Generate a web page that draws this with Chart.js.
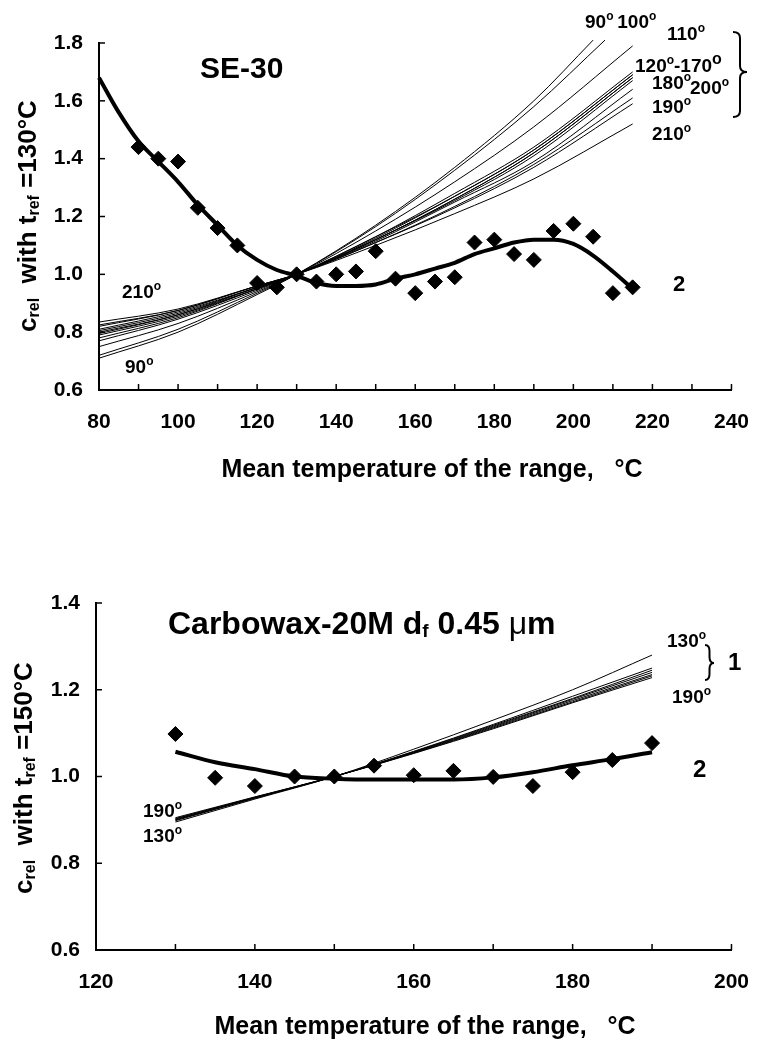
<!DOCTYPE html>
<html>
<head>
<meta charset="utf-8">
<script src="https://cdn.jsdelivr.net/npm/chart.js@4/dist/chart.umd.min.js"></script>
<style>
  html, body { margin: 0; padding: 0; background: #fff; }
  .panel { position: absolute; left: 0; width: 769px; }
  #top { top: 0; height: 500px; }
  #bottom { top: 560px; height: 481px; }
</style>
</head>
<body>
<div class="panel" id="top"><canvas id="se30"></canvas></div>
<div class="panel" id="bottom"><canvas id="cw20"></canvas></div>
<script>
// SE-30 panel
const seTemps = [90, 100, 110, 120, 130, 140, 150, 160, 170, 180, 190, 200, 210];
const seLineX = [80, 100, 120, 130, 150, 170, 190];
const seLineEnd = [205, 208, 215, 215, 215, 215, 215, 215, 215, 215, 215, 215, 215];
const seLineY = [
  [0.71, 0.80, 0.93, 1.00, 1.17, 1.37, 1.60, 1.81],
  [0.72, 0.81, 0.935, 1.00, 1.165, 1.36, 1.58, 1.81],
  [0.75, 0.83, 0.94, 1.00, 1.15, 1.32, 1.51, 1.79],
  [0.77, 0.845, 0.945, 1.00, 1.13, 1.28, 1.44, 1.70],
  [0.78, 0.85, 0.95, 1.00, 1.13, 1.27, 1.43, 1.69],
  [0.79, 0.855, 0.95, 1.00, 1.125, 1.27, 1.43, 1.69],
  [0.795, 0.86, 0.95, 1.00, 1.12, 1.26, 1.42, 1.68],
  [0.80, 0.86, 0.955, 1.00, 1.12, 1.26, 1.42, 1.68],
  [0.805, 0.865, 0.955, 1.00, 1.12, 1.255, 1.41, 1.67],
  [0.81, 0.87, 0.955, 1.00, 1.115, 1.25, 1.39, 1.64],
  [0.82, 0.875, 0.96, 1.00, 1.11, 1.23, 1.37, 1.59],
  [0.825, 0.875, 0.96, 1.00, 1.11, 1.235, 1.38, 1.61],
  [0.835, 0.88, 0.96, 1.00, 1.10, 1.21, 1.33, 1.52],
];
const seCurveX = [80, 85, 90, 95, 100, 105, 110, 115, 120, 125, 130, 135, 140, 145, 150, 155, 160, 165, 170, 175, 180, 185, 190, 195, 200, 205, 210, 215];
const seCurveY = [1.68, 1.56, 1.46, 1.39, 1.32, 1.24, 1.17, 1.10, 1.05, 1.015, 0.995, 0.97, 0.96, 0.96, 0.965, 0.985, 1.0, 1.02, 1.04, 1.07, 1.09, 1.11, 1.12, 1.12, 1.105, 1.065, 1.01, 0.95];
const sePointX = [90, 95, 100, 105, 110, 115, 120, 125, 130, 135, 140, 145, 150, 155, 160, 165, 170, 175, 180, 185, 190, 195, 200, 205, 210, 215];
const sePointY = [1.44, 1.40, 1.39, 1.23, 1.16, 1.10, 0.97, 0.955, 1.0, 0.975, 1.0, 1.01, 1.08, 0.985, 0.935, 0.975, 0.99, 1.11, 1.12, 1.07, 1.05, 1.15, 1.175, 1.13, 0.935, 0.955];

// Carbowax-20M panel
const cwTemps = [130, 140, 150, 160, 170, 180, 190];
const cwLineX = [130, 140, 150, 160, 170, 180, 190];
const cwLineY = [
  [0.895, 0.948, 1.0, 1.063, 1.13, 1.20, 1.28],
  [0.898, 0.95, 1.0, 1.058, 1.12, 1.185, 1.25],
  [0.90, 0.95, 1.0, 1.057, 1.118, 1.18, 1.245],
  [0.90, 0.951, 1.0, 1.056, 1.116, 1.178, 1.24],
  [0.902, 0.952, 1.0, 1.055, 1.114, 1.175, 1.235],
  [0.903, 0.952, 1.0, 1.054, 1.112, 1.172, 1.232],
  [0.905, 0.953, 1.0, 1.053, 1.11, 1.17, 1.228],
];
const cwCurveX = [130, 135, 140, 145, 150, 155, 160, 165, 170, 175, 180, 185, 190];
const cwCurveY = [1.057, 1.033, 1.017, 1.0, 0.995, 0.993, 0.993, 0.993, 0.998, 1.01, 1.026, 1.04, 1.056];
const cwPointX = [130, 135, 140, 145, 150, 155, 160, 165, 170, 175, 180, 185, 190];
const cwPointY = [1.098, 0.997, 0.978, 1.0, 1.0, 1.025, 1.003, 1.013, 0.999, 0.978, 1.01, 1.038, 1.077];

const FONT = '"Liberation Sans", Arial, sans-serif';
const font = (size, weight = 'bold') => `${weight} ${size}px ${FONT}`;

// draw a row of text pieces: [text, size, dy, fontOverride]
function drawRuns(ctx, x, y, parts, align = 'left') {
  let w = 0;
  parts.forEach((p) => { ctx.font = p[3] || font(p[1]); w += ctx.measureText(p[0]).width; });
  let cx = align === 'center' ? x - w / 2 : align === 'right' ? x - w : x;
  ctx.textAlign = 'left';
  ctx.textBaseline = 'middle';
  parts.forEach((p) => {
    ctx.font = p[3] || font(p[1]);
    ctx.fillText(p[0], cx, y + (p[2] || 0));
    cx += ctx.measureText(p[0]).width;
  });
}
const deg = (t, size = 19) => [[t, size], ['o', Math.round(size * 0.62), -size * 0.32]];

function brace(ctx, x0, y0, x1, y1, yTip) {
  const xm = (x0 + x1) / 2, r = 6;
  ctx.beginPath();
  ctx.moveTo(x0, y0);
  ctx.quadraticCurveTo(xm, y0, xm, y0 + r);
  ctx.lineTo(xm, yTip - r);
  ctx.quadraticCurveTo(xm, yTip, x1, yTip);
  ctx.quadraticCurveTo(xm, yTip, xm, yTip + r);
  ctx.lineTo(xm, y1 - r);
  ctx.quadraticCurveTo(xm, y1, x0, y1);
  ctx.stroke();
}

const decor = {
  id: 'decor',
  afterDraw(chart, args, opts) {
    const { ctx, chartArea: a, scales: { x, y } } = chart;
    ctx.save();
    ctx.strokeStyle = '#000';
    ctx.fillStyle = '#000';
    ctx.lineWidth = 1.5;
    // ticks pointing into the plot
    x.ticks.forEach((t) => {
      const px = x.getPixelForValue(t.value);
      ctx.beginPath(); ctx.moveTo(px, a.bottom); ctx.lineTo(px, a.bottom - 6); ctx.stroke();
    });
    y.ticks.forEach((t) => {
      const py = y.getPixelForValue(t.value);
      ctx.beginPath(); ctx.moveTo(a.left, py); ctx.lineTo(a.left + 6, py); ctx.stroke();
    });
    // axis titles
    drawRuns(ctx, opts.xTitle[0], opts.xTitle[1], [['Mean temperature of the range,   °C', 25]], 'center');
    ctx.save();
    ctx.translate(opts.yTitle[0], opts.yTitle[1]);
    ctx.rotate(-Math.PI / 2);
    drawRuns(ctx, 0, 0, [['c', 26], ['rel', 16, 6], ['  with t', 26], ['ref', 16, 6], [' =' + opts.ref + '°C', 26]], 'center');
    ctx.restore();
    opts.labels.forEach((l) => drawRuns(ctx, l[0], l[1], l[2]));
    ctx.lineWidth = 2;
    opts.braces.forEach((b) => brace(ctx, ...b));
    ctx.restore();
  },
};

function lineSet(xs, ys, width) {
  return {
    type: 'line',
    data: xs.map((v, i) => ({ x: v, y: ys[i] })),
    borderColor: '#000',
    borderWidth: width,
    pointRadius: 0,
    cubicInterpolationMode: 'monotone',
    clip: false,
  };
}

function pointSet(xs, ys) {
  return {
    type: 'scatter',
    data: xs.map((v, i) => ({ x: v, y: ys[i] })),
    backgroundColor: '#000',
    borderColor: '#000',
    pointStyle: 'rectRot',
    pointRadius: 7.5,
    showLine: false,
  };
}

function makeOptions(xMin, xMax, yMin, yMax, leftW, rightPad, bottomH, decorOpts) {
  return {
    responsive: true,
    maintainAspectRatio: false,
    animation: false,
    events: [],
    layout: { padding: { top: 43, right: rightPad, left: 0, bottom: 0 } },
    plugins: { legend: { display: false }, tooltip: { enabled: false }, decor: decorOpts },
    scales: {
      x: {
        type: 'linear', min: xMin, max: xMax,
        border: { display: true, color: '#000', width: 2 },
        grid: { display: true, drawOnChartArea: false, drawTicks: false },
        ticks: {
          stepSize: 10, padding: 20, color: '#000', font: { family: FONT, size: 21, weight: 'bold' },
          maxRotation: 0, autoSkip: false,
          callback: (v) => (v % 20 === 0 ? String(v) : ''),
        },
        afterFit: (s) => { s.height = bottomH; },
      },
      y: {
        type: 'linear', min: yMin, max: yMax,
        border: { display: true, color: '#000', width: 2 },
        grid: { display: true, drawOnChartArea: false, drawTicks: false },
        ticks: {
          stepSize: 0.2, padding: 16, color: '#000', font: { family: FONT, size: 21, weight: 'bold' },
          callback: (v) => Number(v).toFixed(1),
        },
        afterFit: (s) => { s.width = leftW; },
      },
    },
  };
}

const seData = {
  datasets: [
    ...seLineY.map((ys, i) => lineSet([...seLineX, seLineEnd[i]], ys, 1)),
    lineSet(seCurveX, seCurveY, 4),
    pointSet(sePointX, sePointY),
  ],
};

const seDecor = {
  xTitle: [432, 470], yTitle: [29, 216], ref: '130',
  labels: [
    [200, 70, [['SE-30', 30]]],
    [585, 23, [...deg('90'), ['\u2009', 19], ...deg('100')]],
    [667, 35, deg('110')],
    [635, 67, [...deg('120'), ['-170', 19], ['o', 16, -7]]],
    [652, 84, deg('180')],
    [690, 89, deg('200')],
    [652, 108, deg('190')],
    [652, 135, deg('210')],
    [673, 285, [['2', 22]]],
    [122, 293, deg('210')],
    [125, 368, deg('90')],
  ],
  braces: [[733, 32, 747, 117, 72]],
};

new Chart(document.getElementById('se30'), {
  type: 'scatter',
  data: seData,
  options: makeOptions(80, 240, 0.6, 1.8, 99, 21, 110, seDecor),
  plugins: [decor],
});

const cwData = {
  datasets: [
    ...cwLineY.map((ys) => lineSet(cwLineX, ys, 1)),
    lineSet(cwCurveX, cwCurveY, 4),
    pointSet(cwPointX, cwPointY),
  ],
};

const cwDecor = {
  xTitle: [425, 467], yTitle: [25, 218], ref: '150',
  labels: [
    [168, 65, [['Carbowax-20M d', 32], ['f', 19, 7], [' 0.45 ', 32], ['\u03bc', 32, 0, `normal 32px ${FONT}`], ['m', 32]]],
    [667, 82, deg('130')],
    [728, 103, [['1', 24]]],
    [672, 138, deg('190')],
    [693, 210, [['2', 24]]],
    [143, 252, deg('190')],
    [143, 277, deg('130')],
  ],
  braces: [[705, 85, 714, 120, 103]],
};

new Chart(document.getElementById('cw20'), {
  type: 'scatter',
  data: cwData,
  options: makeOptions(120, 200, 0.6, 1.4, 96, 26, 91, cwDecor),
  plugins: [decor],
});
</script>
</body>
</html>
